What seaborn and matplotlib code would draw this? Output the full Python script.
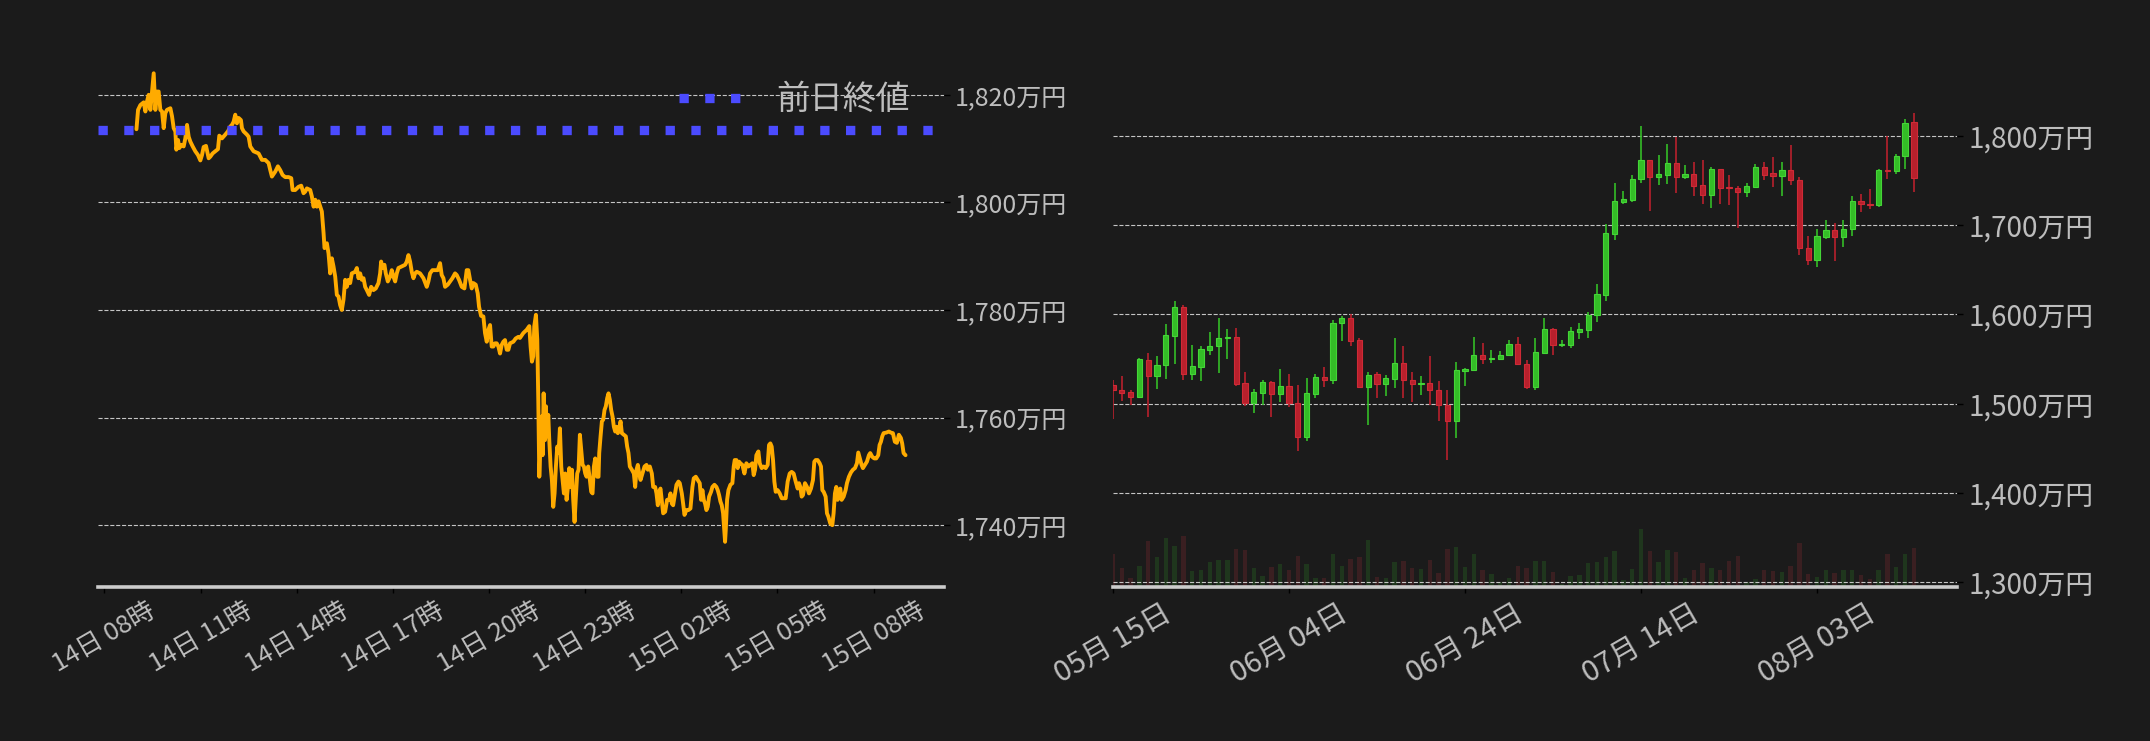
import numpy as np
import pandas as pd
import matplotlib
matplotlib.use("Agg")
import matplotlib.pyplot as plt
import matplotlib.dates as mdates
from matplotlib.ticker import FuncFormatter
import seaborn as sns

# ---------------- data ----------------
# intraday (minutes after 2025-08-14 09:00, price in 万円)
intraday_minutes = [
    0, 3.0, 7.4, 13.6, 16.7, 19.8, 22.9, 26.1, 29.2, 32.3, 35.4, 38.5, 41.6, 44.7, 47.9, 51.0, 54.1, 57.2,
    63.5, 66.6, 69.7, 72.8, 74.7, 77.8, 80.3, 84.1, 88.4, 91.5, 94.7, 97.8, 100.9, 105.3, 110.2, 115.2,
    119.6, 122.7, 125.8, 130.2, 135.2, 138.3, 142.6, 147.6, 152.6, 155.1, 160.1, 166.3, 171.3, 175.7,
    178.8, 181.9, 185.0, 188.1, 191.3, 195.6, 197.5, 200.6, 206.8, 210.0, 213.1, 219.3, 228.7, 234.9,
    241.1, 247.4, 250.5, 253.6, 259.8, 264.8, 269.2, 273.5, 278.5, 284.8, 289.8, 292.3, 297.2, 303.5,
    308.5, 312.8, 316.0, 319.1, 325.3, 328.4, 331.6, 334.7, 337.8, 340.9, 347.1, 350.3, 352.1, 356.5,
    359.6, 362.7, 365.8, 368.9, 372.1, 375.2, 378.3, 381.4, 384.5, 387.6, 390.8, 393.9, 397.0, 400.1,
    403.2, 409.5, 412.6, 415.7, 418.8, 421.9, 425.1, 428.2, 431.3, 435.6, 439.4, 443.8, 448.1, 453.1,
    456.2, 458.1, 460.6, 464.3, 466.8, 470.6, 474.9, 478.0, 481.2, 484.3, 487.4, 490.5, 496.7, 503.0,
    506.1, 509.2, 512.3, 515.4, 518.6, 521.7, 524.8, 531.0, 537.3, 543.5, 546.6, 549.7, 554.1, 559.1,
    564.1, 568.4, 571.5, 574.7, 577.8, 582.8, 587.1, 591.5, 596.5, 599.6, 604.0, 609.0, 614.0, 618.3,
    621.4, 624.6, 627.7, 630.8, 635.2, 638.9, 641.4, 645.2, 649.5, 652.6, 655.8, 658.9, 662.0, 665.1,
    668.2, 671.3, 674.5, 677.6, 680.7, 683.8, 686.9, 690.0, 693.2, 696.3, 699.4, 705.6, 710.0, 715.0,
    718.0, 724.2, 730.5, 735.5, 737.9, 740.4, 742.9, 744.8, 747.9, 750.4, 752.3, 754.2, 756.7, 758.5,
    760.4, 762.3, 764.8, 766.6, 768.5, 771.0, 772.9, 775.4, 777.8, 780.3, 782.8, 785.3, 787.8, 790.3,
    792.8, 795.3, 797.8, 800.3, 802.8, 805.3, 807.8, 810.3, 812.8, 815.3, 817.7, 820.2, 822.7, 825.2,
    827.7, 830.2, 832.7, 835.2, 837.7, 840.2, 842.7, 845.8, 848.9, 851.4, 853.9, 856.4, 858.9, 862.6,
    865.1, 866.4, 868.9, 871.4, 873.9, 876.3, 878.8, 881.3, 883.8, 886.3, 888.8, 891.3, 893.8, 896.3,
    898.8, 901.3, 903.8, 906.3, 908.8, 912.5, 916.2, 918.7, 921.2, 923.7, 927.5, 931.2, 933.7, 936.2,
    938.7, 941.2, 943.7, 947.4, 951.2, 954.9, 957.4, 961.1, 964.9, 967.4, 971.1, 973.6, 976.1, 978.6,
    981.1, 983.6, 986.1, 989.8, 993.5, 997.3, 999.8, 1002.3, 1004.8, 1008.5, 1011.0, 1014.7, 1017.2,
    1021.0, 1023.5, 1026.0, 1029.7, 1033.4, 1037.2, 1040.9, 1043.4, 1047.2, 1050.9, 1054.6, 1057.1,
    1059.6, 1062.1, 1064.6, 1067.1, 1069.6, 1072.1, 1075.8, 1078.3, 1082.1, 1085.8, 1088.3, 1090.8,
    1093.3, 1095.8, 1098.3, 1100.8, 1102.0, 1103.3, 1105.8, 1108.3, 1112.0, 1115.7, 1118.2, 1120.1,
    1123.2, 1125.7, 1128.2, 1130.7, 1134.4, 1138.2, 1141.9, 1145.7, 1149.4, 1153.1, 1155.6, 1158.1,
    1160.6, 1164.4, 1166.9, 1170.6, 1174.3, 1178.1, 1181.8, 1184.3, 1186.8, 1189.3, 1191.8, 1194.3,
    1196.8, 1200.5, 1204.3, 1208.0, 1211.7, 1215.5, 1219.2, 1223.0, 1226.7, 1230.4, 1234.2, 1237.9,
    1240.4, 1242.9, 1245.4, 1247.9, 1251.6, 1255.4, 1259.1, 1262.8, 1266.6, 1269.1, 1271.6, 1275.3,
    1279.1, 1281.6, 1284.1, 1286.6, 1290.3, 1292.8, 1295.3, 1299.0, 1302.8, 1305.2, 1307.7, 1310.2,
    1312.7, 1315.2, 1317.7, 1320.2, 1324.0, 1327.7, 1330.2, 1333.9, 1337.7, 1341.4, 1345.2, 1348.9,
    1351.4, 1355.1, 1357.6, 1360.1, 1363.8, 1367.6, 1371.3, 1373.8, 1377.6, 1381.3, 1385.0, 1388.8,
    1391.3, 1393.8, 1396.3, 1398.8, 1403.7, 1408.7, 1412.5, 1416.2, 1419.9, 1423.7, 1427.4, 1431.2,
    1433.6, 1436.2, 1439.9,
]
intraday_price = [
    1813.6, 1817.2, 1818.1, 1818.6, 1816.9, 1818.8, 1820.0, 1817.2, 1820.6, 1824.0, 1817.2, 1820.6, 1820.6,
    1817.2, 1816.9, 1813.8, 1816.6, 1817.2, 1817.5, 1816.0, 1813.8, 1813.2, 1809.8, 1811.6, 1810.1, 1810.7,
    1810.4, 1811.9, 1814.4, 1812.2, 1811.3, 1810.4, 1809.5, 1808.8, 1807.8, 1808.8, 1810.3, 1810.5, 1808.2,
    1808.5, 1809.1, 1809.5, 1809.9, 1812.4, 1811.9, 1812.6, 1813.2, 1814.1, 1814.4, 1815.0, 1816.3, 1814.7,
    1815.7, 1815.3, 1813.8, 1813.2, 1812.6, 1812.2, 1810.4, 1809.5, 1809.1, 1807.9, 1807.9, 1807.3, 1806.0,
    1804.8, 1805.7, 1806.7, 1806.0, 1805.1, 1804.7, 1804.7, 1804.5, 1802.3, 1802.3, 1802.9, 1803.1, 1801.7,
    1802.0, 1802.6, 1802.3, 1801.1, 1799.2, 1800.5, 1799.2, 1800.2, 1798.3, 1794.3, 1791.5, 1792.4, 1790.5,
    1786.8, 1789.6, 1788.1, 1786.2, 1782.8, 1782.5, 1780.9, 1780.0, 1781.9, 1785.6, 1784.3, 1785.6, 1785.0,
    1786.8, 1787.1, 1787.8, 1785.9, 1786.8, 1785.6, 1785.9, 1784.3, 1783.7, 1782.8, 1784.3, 1783.7, 1784.0,
    1785.0, 1786.8, 1789.0, 1787.8, 1788.4, 1786.8, 1785.3, 1786.2, 1787.4, 1786.2, 1785.3, 1786.8, 1787.8,
    1788.1, 1788.4, 1789.0, 1790.2, 1789.0, 1787.1, 1785.9, 1786.8, 1787.1, 1786.8, 1785.9, 1784.3, 1785.3,
    1786.8, 1787.4, 1787.4, 1787.4, 1788.7, 1786.5, 1785.9, 1784.3, 1784.7, 1785.3, 1785.9, 1786.8, 1786.5,
    1785.6, 1784.3, 1784.0, 1787.4, 1787.4, 1785.6, 1784.0, 1785.0, 1784.7, 1783.1, 1780.6, 1778.9, 1778.8,
    1775.7, 1774.1, 1776.3, 1777.2, 1773.2, 1773.2, 1773.8, 1773.8, 1773.2, 1771.9, 1773.5, 1774.1, 1774.4,
    1772.6, 1772.6, 1773.8, 1774.1, 1774.7, 1775.0, 1774.8, 1775.7, 1776.3, 1777.0, 1773.2, 1770.4, 1771.4,
    1777.0, 1779.1, 1774.5, 1763.3, 1749.0, 1755.8, 1760.2, 1753.0, 1764.5, 1755.8, 1762.1, 1756.5, 1760.5,
    1755.8, 1750.9, 1748.4, 1743.4, 1745.9, 1750.9, 1754.6, 1753.4, 1758.0, 1750.9, 1748.4, 1745.9, 1749.6,
    1744.7, 1747.1, 1750.6, 1747.1, 1750.3, 1744.7, 1740.6, 1745.3, 1749.6, 1750.3, 1756.8, 1754.0, 1751.2,
    1750.9, 1749.6, 1749.0, 1750.9, 1748.4, 1746.2, 1745.9, 1750.9, 1752.4, 1749.0, 1749.0, 1753.4, 1756.5,
    1759.3, 1759.6, 1761.4, 1762.1, 1763.6, 1764.5, 1763.3, 1761.4, 1760.2, 1758.3, 1757.4, 1758.3, 1757.1,
    1757.7, 1759.3, 1757.1, 1756.8, 1756.5, 1754.6, 1753.4, 1750.9, 1750.3, 1749.6, 1747.1, 1750.3, 1751.2,
    1749.6, 1748.4, 1749.6, 1750.9, 1751.2, 1750.3, 1750.9, 1749.6, 1747.1, 1747.1, 1745.9, 1743.7, 1746.2,
    1746.8, 1744.4, 1742.2, 1742.5, 1744.7, 1744.7, 1745.9, 1744.0, 1743.7, 1745.9, 1747.5, 1748.1, 1747.8,
    1745.9, 1744.0, 1741.9, 1742.8, 1742.8, 1743.1, 1747.1, 1748.7, 1749.0, 1748.4, 1747.8, 1744.7, 1746.5,
    1744.7, 1744.0, 1742.8, 1743.4, 1745.3, 1746.2, 1747.1, 1747.5, 1747.1, 1746.5, 1745.6, 1744.4, 1743.7,
    1742.2, 1738.5, 1736.9, 1739.1, 1744.7, 1746.5, 1747.5, 1747.8, 1750.9, 1752.1, 1752.1, 1750.6, 1751.8,
    1751.5, 1751.2, 1749.6, 1751.5, 1750.9, 1751.2, 1751.5, 1749.3, 1750.3, 1753.0, 1753.7, 1751.5, 1750.6,
    1750.9, 1750.6, 1751.2, 1754.9, 1755.2, 1754.6, 1752.1, 1748.1, 1746.2, 1746.5, 1745.9, 1745.0, 1745.0,
    1745.0, 1748.1, 1749.6, 1749.9, 1749.6, 1748.1, 1746.8, 1747.8, 1747.1, 1745.3, 1745.6, 1747.8, 1747.1,
    1745.9, 1746.8, 1748.4, 1751.8, 1752.1, 1752.1, 1751.5, 1750.9, 1746.5, 1746.2, 1745.3, 1742.2, 1741.6,
    1740.3, 1740.0, 1742.2, 1745.9, 1747.1, 1744.7, 1746.5, 1746.8, 1744.7, 1745.3, 1746.5, 1747.8, 1749.0,
    1749.8, 1750.3, 1750.6, 1751.5, 1753.5, 1752.1, 1751.2, 1750.6, 1751.2, 1751.8, 1753.0, 1753.4, 1752.7,
    1752.4, 1752.4, 1753.0, 1754.9, 1755.5, 1756.5, 1757.1, 1757.2, 1757.4, 1757.2, 1757.1, 1755.5, 1755.3,
    1756.8, 1756.2, 1755.2, 1753.4, 1753.0,
]
prev_close = 1813.5
intraday_start = "2025-08-14 09:00"
intraday_ticks = ["2025-08-14 08:00", "2025-08-14 11:00", "2025-08-14 14:00", "2025-08-14 17:00",
                  "2025-08-14 20:00", "2025-08-14 23:00", "2025-08-15 02:00", "2025-08-15 05:00",
                  "2025-08-15 08:00"]
intraday_yticks = [1740, 1760, 1780, 1800, 1820]
legend_label = "前日終値"

# daily OHLC (万円), from 2025-05-15
daily_start = "2025-05-15"
daily_open = [1521, 1515, 1513, 1507, 1549, 1531, 1543, 1576, 1608, 1533, 1541, 1560, 1564, 1573, 1575, 1523,
              1501, 1512, 1524, 1511, 1520, 1501, 1463, 1511, 1530, 1527, 1590, 1596, 1571, 1519, 1533, 1522,
              1528, 1546, 1526, 1522, 1523, 1515, 1498, 1480, 1537, 1538, 1555, 1550, 1550, 1554, 1567, 1544,
              1519, 1557, 1583, 1566, 1566, 1580, 1582, 1599, 1622, 1690, 1726, 1728, 1751, 1773, 1754, 1756,
              1769, 1754, 1757, 1745, 1734, 1763, 1743, 1741, 1737, 1743, 1765, 1758, 1755, 1762, 1750, 1674,
              1661, 1687, 1694, 1687, 1695, 1727, 1724, 1722, 1762, 1760, 1777, 1815]
daily_high = [1526, 1531, 1515, 1551, 1557, 1553, 1589, 1615, 1610, 1566, 1565, 1580, 1596, 1583, 1585, 1535,
              1516, 1527, 1525, 1539, 1533, 1521, 1529, 1533, 1541, 1594, 1598, 1600, 1573, 1535, 1535, 1532,
              1574, 1565, 1535, 1531, 1553, 1525, 1515, 1547, 1540, 1575, 1568, 1560, 1559, 1571, 1575, 1549,
              1574, 1596, 1585, 1571, 1586, 1590, 1603, 1634, 1701, 1747, 1738, 1756, 1811, 1773, 1778, 1791,
              1799, 1767, 1771, 1773, 1765, 1763, 1756, 1744, 1747, 1768, 1771, 1776, 1771, 1790, 1754, 1688,
              1696, 1706, 1702, 1706, 1733, 1735, 1740, 1763, 1800, 1780, 1819, 1825]
daily_low = [1483, 1503, 1499, 1506, 1485, 1516, 1528, 1544, 1526, 1527, 1525, 1555, 1534, 1550, 1520, 1497,
             1490, 1499, 1485, 1502, 1496, 1447, 1458, 1506, 1519, 1522, 1570, 1564, 1519, 1476, 1506, 1509,
             1518, 1506, 1502, 1510, 1498, 1480, 1437, 1462, 1520, 1536, 1544, 1545, 1549, 1553, 1544, 1516,
             1515, 1557, 1555, 1563, 1562, 1572, 1573, 1591, 1615, 1683, 1723, 1726, 1747, 1716, 1745, 1746,
             1736, 1751, 1733, 1723, 1719, 1723, 1722, 1697, 1731, 1742, 1750, 1743, 1732, 1745, 1666, 1655,
             1653, 1684, 1660, 1675, 1688, 1715, 1718, 1720, 1751, 1757, 1763, 1737]
daily_close = [1515, 1512, 1507, 1550, 1531, 1543, 1577, 1608, 1533, 1542, 1561, 1565, 1574, 1575, 1522, 1501,
               1513, 1524, 1511, 1520, 1501, 1463, 1512, 1530, 1527, 1590, 1596, 1570, 1519, 1532, 1522, 1529,
               1546, 1526, 1522, 1523, 1515, 1498, 1480, 1538, 1539, 1555, 1550, 1551, 1555, 1567, 1544, 1519,
               1558, 1583, 1566, 1567, 1581, 1583, 1599, 1623, 1691, 1727, 1729, 1752, 1773, 1754, 1757, 1769,
               1754, 1757, 1744, 1734, 1763, 1741, 1741, 1737, 1744, 1765, 1756, 1755, 1762, 1750, 1674, 1661,
               1688, 1694, 1687, 1696, 1727, 1723, 1722, 1762, 1760, 1777, 1814, 1753]
daily_volume = [98, 57, 27, 62, 137, 89, 147, 122, 152, 47, 50, 74, 80, 80, 113, 110, 56, 32, 59, 68, 50, 92,
                68, 26, 26, 98, 62, 83, 89, 140, 29, 26, 74, 77, 56, 53, 80, 41, 113, 119, 59, 98, 50, 38, 15,
                26, 62, 56, 77, 77, 44, 10, 32, 35, 71, 74, 89, 107, 20, 53, 173, 107, 74, 110, 104, 26, 50, 71,
                56, 50, 77, 92, 15, 23, 50, 47, 44, 62, 131, 38, 29, 50, 41, 50, 50, 35, 23, 50, 98, 59, 98, 116]
daily_ticks = ["2025-05-15", "2025-06-04", "2025-06-24", "2025-07-14", "2025-08-03"]
daily_yticks = [1300, 1400, 1500, 1600, 1700, 1800]

# ---------------- style ----------------
BG = "#1b1b1b"
TXT = "#bdbdbd"
GRID = "#cfcfcf"
LINE = "#ffab00"
DOT = "#4b4bff"
UP, UP_EDGE = "#34bd27", "#44d537"
DN, DN_EDGE = "#b8202c", "#cf2a36"
UP_VOL, DN_VOL = "#1f361d", "#3a1f21"

sns.set_theme(style="dark", rc={"axes.facecolor": BG, "figure.facecolor": BG,
                                "savefig.facecolor": BG})
plt.rcParams["font.family"] = ["Noto Sans CJK JP", "DejaVu Sans"]

fig = plt.figure(figsize=(21.5, 7.41), dpi=100)
W, H = 2150, 741
ax1 = fig.add_axes([98 / W, 154 / H, 846 / W, 546 / H])
ax2 = fig.add_axes([1113 / W, 154 / H, 844 / W, 546 / H])

yen_fmt = FuncFormatter(lambda v, p: f"{v:,.0f}万円")


def style_axis(ax, ysize, xsize):
    ax.set_facecolor(BG)
    for side in ["left", "top", "right"]:
        ax.spines[side].set_visible(False)
    ax.spines["bottom"].set_color("#cccccc")
    ax.spines["bottom"].set_linewidth(2.6)
    ax.grid(axis="y", linestyle="--", color=GRID, linewidth=0.8, alpha=0.95)
    ax.grid(axis="x", visible=False)
    ax.yaxis.tick_right()
    ax.tick_params(axis="y", which="both", left=False, right=True, labelleft=False, labelright=True,
                   length=4, width=1, color="black", labelcolor=TXT, labelsize=ysize, pad=4)
    ax.tick_params(axis="x", bottom=True, length=4, width=1, color="black", labelcolor=TXT,
                   labelsize=xsize, labelrotation=30, pad=4)
    ax.yaxis.set_major_formatter(yen_fmt)
    ax.set_xlabel("")
    ax.set_ylabel("")


# ---------------- left: intraday ----------------
t0 = pd.Timestamp(intraday_start)
df_line = pd.DataFrame({
    "time": t0 + pd.to_timedelta(intraday_minutes, unit="min"),
    "price": intraday_price,
})
sns.lineplot(data=df_line, x="time", y="price", ax=ax1, color=LINE, linewidth=2.8, zorder=3)
ax1.axhline(prev_close, color=DOT, linewidth=6.7, linestyle=(0, (1, 1.77)), zorder=4, label=legend_label)
ax1.set_ylim(1728.5, 1830)
ax1.set_yticks(intraday_yticks)
ax1.set_xticks(mdates.date2num(pd.to_datetime(intraday_ticks)))
ax1.xaxis.set_major_formatter(mdates.DateFormatter("%d日 %H時"))
style_axis(ax1, 18, 18.5)
leg = ax1.legend(loc="upper right", bbox_to_anchor=(0.975, 0.949), frameon=False, fontsize=24,
                 labelcolor=TXT, handlelength=2.1, handletextpad=0.8, borderaxespad=0.0)

# ---------------- right: daily candles ----------------
dates = pd.date_range(daily_start, periods=len(daily_open), freq="D")
xd = mdates.date2num(dates)
o = np.array(daily_open, float)
h = np.array(daily_high, float)
l = np.array(daily_low, float)
c = np.array(daily_close, float)
up = c >= o

axv = ax2.twinx()
axv.bar(xd, daily_volume, width=0.5, color=[UP_VOL if u else DN_VOL for u in up], linewidth=0)
axv.set_ylim(0, max(daily_volume) / 0.1056)
axv.set_yticks([])
for s in axv.spines.values():
    s.set_visible(False)
axv.grid(False)
ax2.set_zorder(axv.get_zorder() + 1)
ax2.patch.set_visible(False)

ax2.vlines(xd, l, h, colors=[UP if u else DN for u in up], linewidth=1.2, zorder=3)
body_bottom = np.minimum(o, c)
body_h = np.abs(c - o)
ax2.bar(xd, body_h, bottom=body_bottom, width=0.6,
        color=[UP if u else DN for u in up],
        edgecolor=[UP_EDGE if u else DN_EDGE for u in up], linewidth=0.8, zorder=4)

ax2.set_xlim(xd[0], xd[0] + 95.9)
ax2.set_ylim(1294.7, 1906)
ax2.set_yticks(daily_yticks)
ax2.xaxis_date()
ax2.set_xticks(mdates.date2num(pd.to_datetime(daily_ticks)))
ax2.xaxis.set_major_formatter(mdates.DateFormatter("%m月 %d日"))
style_axis(ax2, 20, 21)

fig.savefig("out.png", dpi=100, facecolor=BG)
